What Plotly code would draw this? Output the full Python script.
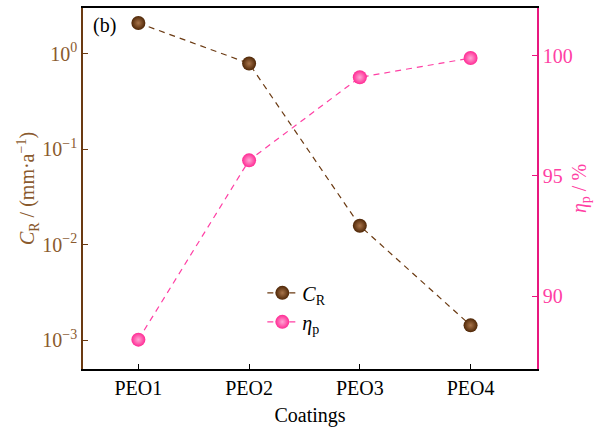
import plotly.graph_objects as go

coatings = ["PEO1", "PEO2", "PEO3", "PEO4"]
corrosion_rate = [2.1, 0.79, 0.0158, 0.00143]      # C_R, mm·a^-1
protection_eff = [88.2, 95.65, 99.1, 99.9]        # η_p, %

log_tick_vals = [1e0, 1e-1, 1e-2, 1e-3]
log_tick_text = ["10<sup>0</sup>", "10<sup>−1</sup>", "10<sup>−2</sup>", "10<sup>−3</sup>"]
eff_tick_vals = [90, 95, 100]

BROWN = "#6B3A12"
BROWN_TXT = "#8A5A2E"
PINK = "#FF3FA4"
PINK_LINE = "#E8187F"
FONT = "Liberation Serif"
FS = 20

fig = go.Figure()

# shaded "sphere" markers: radial gradient, lighter centre
fig.add_trace(go.Scatter(
    x=coatings, y=corrosion_rate, name="<i>C</i><sub>R</sub>",
    mode="lines+markers",
    line=dict(color=BROWN, width=1.2, dash="6px,5px"),
    marker=dict(size=14, color="#4E2606", line=dict(width=0),
                gradient=dict(type="radial", color="#A8744A")),
    yaxis="y",
))

fig.add_trace(go.Scatter(
    x=coatings, y=protection_eff, name="<i>η</i><sub>p</sub>",
    mode="lines+markers",
    line=dict(color=PINK, width=1.2, dash="6px,5px"),
    marker=dict(size=14, color="#FF2A94", line=dict(width=0),
                gradient=dict(type="radial", color="#FFA6D4")),
    yaxis="y2",
))

fig.add_annotation(text="(b)", xref="paper", yref="paper", x=0.018, y=0.99,
                   xanchor="left", yanchor="top", showarrow=False,
                   font=dict(family=FONT, size=FS, color="black"))

fig.update_layout(
    width=597, height=429,
    margin=dict(l=83, r=60, t=6, b=60),
    paper_bgcolor="white", plot_bgcolor="white",
    font=dict(family=FONT, size=FS, color="black"),
    showlegend=True,
    legend=dict(x=0.395, y=0.265, xanchor="left", yanchor="top",
                bgcolor="rgba(0,0,0,0)", font=dict(family=FONT, size=FS),
                itemwidth=30, tracegroupgap=0),
    xaxis=dict(
        type="category", range=[-0.5, 3.6],
        showline=True, linecolor="black", linewidth=1.5, mirror=True,
        ticks="inside", ticklen=5, tickcolor="black", tickwidth=1,
        showgrid=False, zeroline=False,
        tickfont=dict(family=FONT, size=FS, color="black"),
        title=dict(text="Coatings", font=dict(family=FONT, size=FS, color="black"), standoff=10),
    ),
    yaxis=dict(
        type="log", range=[-3.302, 0.479],
        tickvals=log_tick_vals, ticktext=log_tick_text,
        showline=True, linecolor=BROWN, linewidth=1.5,
        ticks="inside", ticklen=5, tickcolor=BROWN, tickwidth=1.2,
        showgrid=False, zeroline=False,
        tickfont=dict(family=FONT, size=FS, color=BROWN_TXT),
        title=dict(text="<i>C</i><sub>R</sub> / (mm·a<sup>−1</sup>)",
                   font=dict(family=FONT, size=FS, color=BROWN_TXT), standoff=2),
    ),
    yaxis2=dict(
        overlaying="y", side="right", range=[86.98, 101.98],
        tickvals=eff_tick_vals,
        showline=True, linecolor=PINK_LINE, linewidth=1.5,
        ticks="inside", ticklen=5, tickcolor=PINK_LINE, tickwidth=1.2,
        showgrid=False, zeroline=False,
        tickfont=dict(family=FONT, size=FS, color=PINK),
        title=dict(text="<i>η</i><sub>p</sub> / %",
                   font=dict(family=FONT, size=FS, color=PINK), standoff=0),
    ),
)

fig.write_html("out.html")
